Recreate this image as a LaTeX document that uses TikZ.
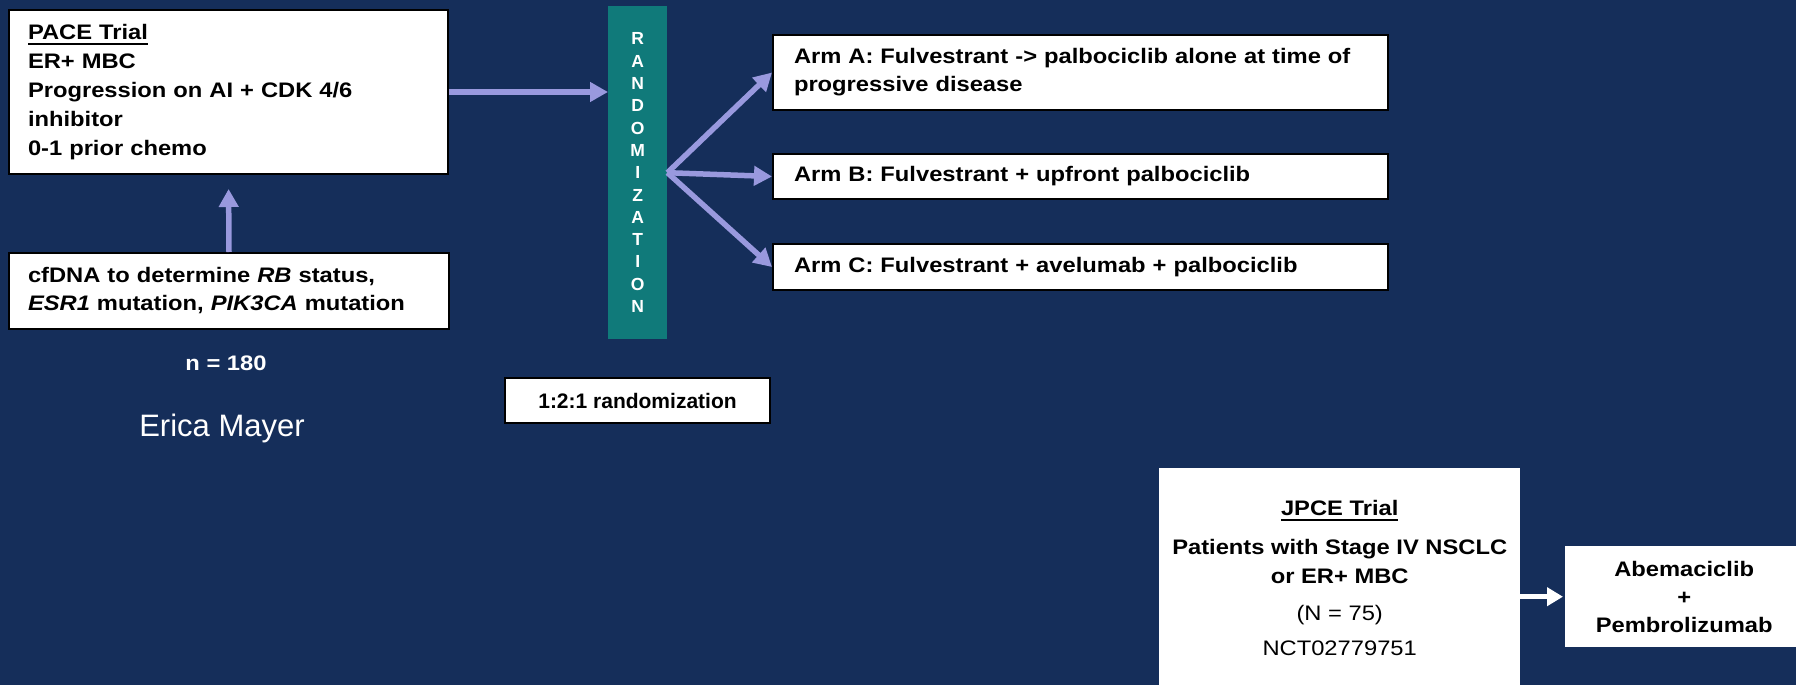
\documentclass[tikz,border=0pt]{standalone}
\usepackage{fontspec}
\setmainfont{Liberation Sans}
\newfontfamily\wf[FakeStretch=1.13]{Liberation Sans}
\usetikzlibrary{arrows.meta}
\definecolor{bg}{RGB}{21,46,90}
\definecolor{tealbar}{RGB}{16,122,122}
\definecolor{lav}{RGB}{153,153,222}
\newcommand\myul[1]{\setbox0\hbox{#1}\rlap{\rule[-5.5pt]{\wd0}{1.8pt}}\box0}
\begin{document}
\begin{tikzpicture}[x=1pt,y=-1pt,
  box/.style={draw=black, line width=2pt, fill=white, inner sep=0pt},
  wbox/.style={fill=white, inner sep=0pt},
  bodyfont/.style={font=\wf\bfseries\fontsize{21}{29}\selectfont},
  arr/.style={draw=lav, line width=5.5pt, -{Triangle[length=18pt,width=19pt]}},
  warr/.style={draw=white, line width=4.5pt, -{Triangle[length=16pt,width=18pt]}}]
\useasboundingbox (0,0) rectangle (1796,685);
\fill[bg] (0,0) rectangle (1796,685);

% PACE trial box
\node[box, bodyfont, anchor=north west, minimum width=439pt, minimum height=164pt,
      inner xsep=19pt, text width=401pt, align=left] (pace) at (8,9)
  {\myul{PACE Trial}\\ER+ MBC\\Progression on AI + CDK 4/6\\inhibitor\\0-1 prior chemo};

% cfDNA box
\node[box, font=\wf\bfseries\fontsize{21}{28}\selectfont, anchor=north west, minimum width=440pt, minimum height=76pt,
      inner xsep=19pt, text width=402pt, align=left] (cf) at (8,252)
  {cfDNA to determine \textit{RB} status,\\\textit{ESR1} mutation, \textit{PIK3CA} mutation};

% labels below
\node[text=white, font=\wf\bfseries\fontsize{21}{25}\selectfont, anchor=base] (n) at (226,370) {n = 180};
\node[text=white, font=\fontsize{31}{36}\selectfont, anchor=base] (erica) at (222,436) {Erica Mayer};

% randomization bar
\node[fill=tealbar, anchor=north west, minimum width=59pt, minimum height=333pt, inner sep=0pt,
      align=center, text=white, font=\bfseries\fontsize{17.5}{22.3}\selectfont] (rand) at (608,6)
  {R\\A\\N\\D\\O\\M\\I\\Z\\A\\T\\I\\O\\N};

% ratio box
\node[box, anchor=north west, minimum width=265pt, minimum height=45pt,
      font=\bfseries\fontsize{21}{25}\selectfont] (ratio) at (504,377) {1:2:1 randomization};

% arms
\node[box, font=\wf\bfseries\fontsize{21}{28}\selectfont, anchor=north west, minimum width=615pt, minimum height=75pt,
      inner xsep=21pt, text width=573pt, align=left] (armA) at (772,34)
  {Arm A: Fulvestrant -> palbociclib alone at time of\\progressive disease};
\node[box, font=\wf\bfseries\fontsize{21}{28}\selectfont, anchor=north west, minimum width=615pt, minimum height=45pt,
      inner xsep=21pt, text width=573pt, align=left] (armB) at (772,153)
  {Arm B: Fulvestrant + upfront palbociclib};
\node[box, font=\wf\bfseries\fontsize{21}{28}\selectfont, anchor=north west, minimum width=615pt, minimum height=46pt,
      inner xsep=21pt, text width=573pt, align=left] (armC) at (772,243)
  {Arm C: Fulvestrant + avelumab + palbociclib};

% JPCE trial
\node[wbox, bodyfont, anchor=north west, minimum width=361pt, minimum height=219pt, align=center] (jpce) at (1159,468)
  {\myul{JPCE Trial}\\[10pt]Patients with Stage IV NSCLC\\or ER+ MBC\\[8pt]{\mdseries (N = 75)}\\[6pt]{\mdseries NCT02779751}};
\node[wbox, font=\wf\bfseries\fontsize{21}{28}\selectfont, anchor=north west, minimum width=238pt, minimum height=101pt,
      align=center] (abem) at (1565,546)
  {Abemaciclib\\+\\Pembrolizumab};

% connectors
\draw[arr] (pace.east) -- (pace.east -| rand.west);
\draw[arr, shorten >=14pt] (cf.north) -- (pace.south);
\draw[arr] (rand.east) -- (armA.west);
\draw[arr] (rand.east) -- (armB.west);
\draw[arr] (rand.east) -- (armC.west);
\draw[warr, shorten >=2pt] (abem.west -| jpce.east) -- (abem.west);
\end{tikzpicture}
\end{document}
